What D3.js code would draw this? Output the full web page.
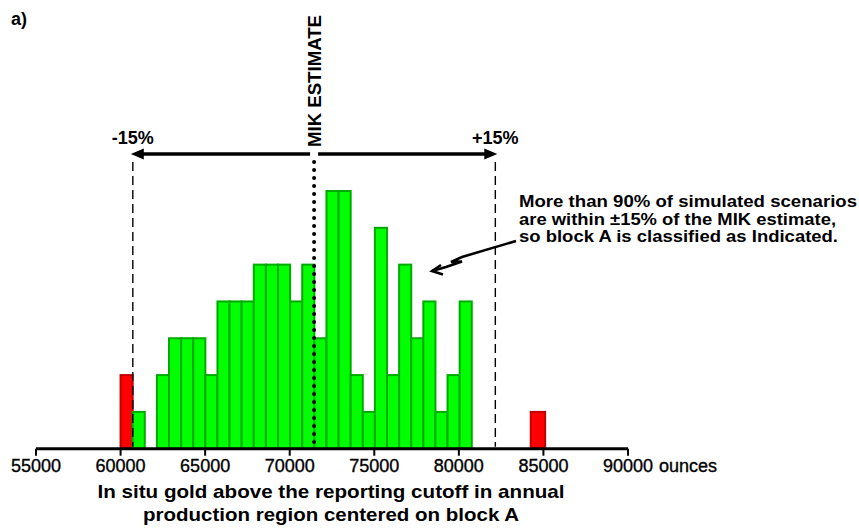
<!DOCTYPE html>
<html>
<head>
<meta charset="utf-8">
<script src="https://cdn.jsdelivr.net/npm/d3@7"></script>
<style>
  html, body { margin: 0; padding: 0; background: #fff; }
  svg { display: block; font-family: "Liberation Sans", Arial, Helvetica, sans-serif; }
</style>
</head>
<body>
<svg id="chart" width="859" height="529"></svg>
<script>
// ---------------- data ----------------
const xTicks = [55000, 60000, 65000, 70000, 75000, 80000, 85000, 90000];
const binStart = 60000;
const binWidth = 716;
const binCounts = [2, 1, 0, 2, 3, 3, 3, 2, 4, 4, 4, 5, 5, 5, 4, 5, 3, 7, 7, 2, 1, 6, 2, 5, 3, 4, 1, 2, 4];
const outlierBins = [{ x0: 84250, x1: 85100, count: 1 }];
const mikEstimate = 71440;
const tolerance = 0.15;
const annotationLines = [
  "More than 90% of simulated scenarios",
  "are within \u00B115% of the MIK estimate,",
  "so block A is classified as Indicated."
];
const axisTitleLines = [
  "In situ gold above the reporting cutoff in annual",
  "production region centered on block A"
];

// ---------------- build ----------------
const bins = binCounts.map((c, i) => ({ x0: binStart + i * binWidth, x1: binStart + (i + 1) * binWidth, count: c }))
  .concat(outlierBins);
const lower = mikEstimate * (1 - tolerance);
const upper = mikEstimate * (1 + tolerance);
const isOut = d => d.x1 <= lower || d.x0 >= upper;

const svg = d3.select("#chart");
const x = d3.scaleLinear().domain([55000, 90000]).range([36, 628]);
const y = d3.scaleLinear().domain([0, 7]).range([448.7, 191]);

// bars
svg.append("g").selectAll("rect")
  .data(bins.filter(d => d.count > 0))
  .join("rect")
  .attr("x", d => x(d.x0))
  .attr("y", d => y(d.count))
  .attr("width", d => x(d.x1) - x(d.x0))
  .attr("height", d => y(0) - y(d.count))
  .attr("fill", d => isOut(d) ? "#ff0000" : "#00ff00")
  .attr("stroke", d => isOut(d) ? "#c00000" : "#00aa00")
  .attr("stroke-width", 2);

// dashed +-15% lines
const lineTop = 162;
svg.append("g").selectAll("line")
  .data([lower, upper])
  .join("line")
  .attr("x1", d => x(d)).attr("x2", d => x(d))
  .attr("y1", lineTop).attr("y2", y(0) - 2)
  .attr("stroke", "#000").attr("stroke-width", 1.4)
  .attr("stroke-dasharray", "9,5");

// dotted MIK line
svg.append("line")
  .attr("x1", x(mikEstimate)).attr("x2", x(mikEstimate))
  .attr("y1", lineTop).attr("y2", y(0) - 3)
  .attr("stroke", "#000").attr("stroke-width", 4)
  .attr("stroke-linecap", "round")
  .attr("stroke-dasharray", "0,8");

// double arrow
const arrowY = 154;
const tipL = x(lower) - 2, tipR = x(upper) + 2;
svg.append("line")
  .attr("x1", tipL + 10).attr("x2", tipR - 10)
  .attr("y1", arrowY).attr("y2", arrowY)
  .attr("stroke", "#000").attr("stroke-width", 3.5);
svg.append("path")
  .attr("d", `M${tipL},${arrowY} L${tipL + 13},${arrowY - 5.5} L${tipL + 13},${arrowY + 5.5} Z`)
  .attr("fill", "#000");
svg.append("path")
  .attr("d", `M${tipR},${arrowY} L${tipR - 13},${arrowY - 5.5} L${tipR - 13},${arrowY + 5.5} Z`)
  .attr("fill", "#000");
// gap in arrow where MIK line crosses
svg.append("line")
  .attr("x1", x(mikEstimate) - 4).attr("x2", x(mikEstimate) + 4)
  .attr("y1", arrowY).attr("y2", arrowY)
  .attr("stroke", "#fff").attr("stroke-width", 6);

// labels -15% / +15%
svg.append("text").attr("x", x(lower)).attr("y", 144)
  .attr("text-anchor", "middle").attr("font-weight", "bold").attr("font-size", 18)
  .text("-15%");
svg.append("text").attr("x", x(upper)).attr("y", 144)
  .attr("text-anchor", "middle").attr("font-weight", "bold").attr("font-size", 18)
  .text("+15%");

// MIK ESTIMATE rotated
svg.append("text")
  .attr("transform", `translate(${x(mikEstimate) + 6.5},147) rotate(-90)`)
  .attr("font-weight", "bold").attr("font-size", 18)
  .attr("textLength", 132).attr("lengthAdjust", "spacingAndGlyphs")
  .text("MIK ESTIMATE");

// x axis
const axisY = y(0);
svg.append("line")
  .attr("x1", x(55000)).attr("x2", x(90000))
  .attr("y1", axisY).attr("y2", axisY)
  .attr("stroke", "#000").attr("stroke-width", 3);
const tg = svg.append("g").selectAll("g").data(xTicks).join("g")
  .attr("transform", d => `translate(${x(d)},0)`);
tg.append("line").attr("y1", axisY).attr("y2", axisY + 7)
  .attr("stroke", "#000").attr("stroke-width", 2);
tg.append("text").attr("y", 471.5).attr("text-anchor", "middle")
  .attr("font-size", 18).attr("fill", "#000")
  .attr("stroke", "#000").attr("stroke-width", 0.35)
  .text(d => d);
svg.append("text").attr("x", x(90000) + 31).attr("y", 471.5)
  .attr("font-size", 18)
  .attr("stroke", "#000").attr("stroke-width", 0.35)
  .text("ounces");

// axis title
const titleLens = [467, 376];
svg.append("g").selectAll("text").data(axisTitleLines).join("text")
  .attr("x", 331).attr("y", (d, i) => 498 + i * 23)
  .attr("text-anchor", "middle").attr("font-weight", "bold").attr("font-size", 18.5)
  .attr("textLength", (d, i) => titleLens[i]).attr("lengthAdjust", "spacingAndGlyphs")
  .text(d => d);

// panel label
svg.append("text").attr("x", 11).attr("y", 25)
  .attr("font-weight", "bold").attr("font-size", 18).text("a)");

// annotation text
const annLens = [338, 317, 319];
svg.append("g").selectAll("text").data(annotationLines).join("text")
  .attr("x", 519).attr("y", (d, i) => 207 + i * 17.5)
  .attr("font-weight", "bold").attr("font-size", 17)
  .attr("textLength", (d, i) => annLens[i]).attr("lengthAdjust", "spacingAndGlyphs")
  .text(d => d);

// annotation lightning arrow
svg.append("path")
  .attr("d", "M516,241 L462,257 L451,262 L462,261.5 L446,267 L432,271")
  .attr("fill", "none").attr("stroke", "#000").attr("stroke-width", 2.5)
  .attr("stroke-linejoin", "miter");
svg.append("path")
  .attr("d", "M441,265 L432,271 L443,274.5")
  .attr("fill", "none").attr("stroke", "#000").attr("stroke-width", 2.5);
</script>
</body>
</html>
